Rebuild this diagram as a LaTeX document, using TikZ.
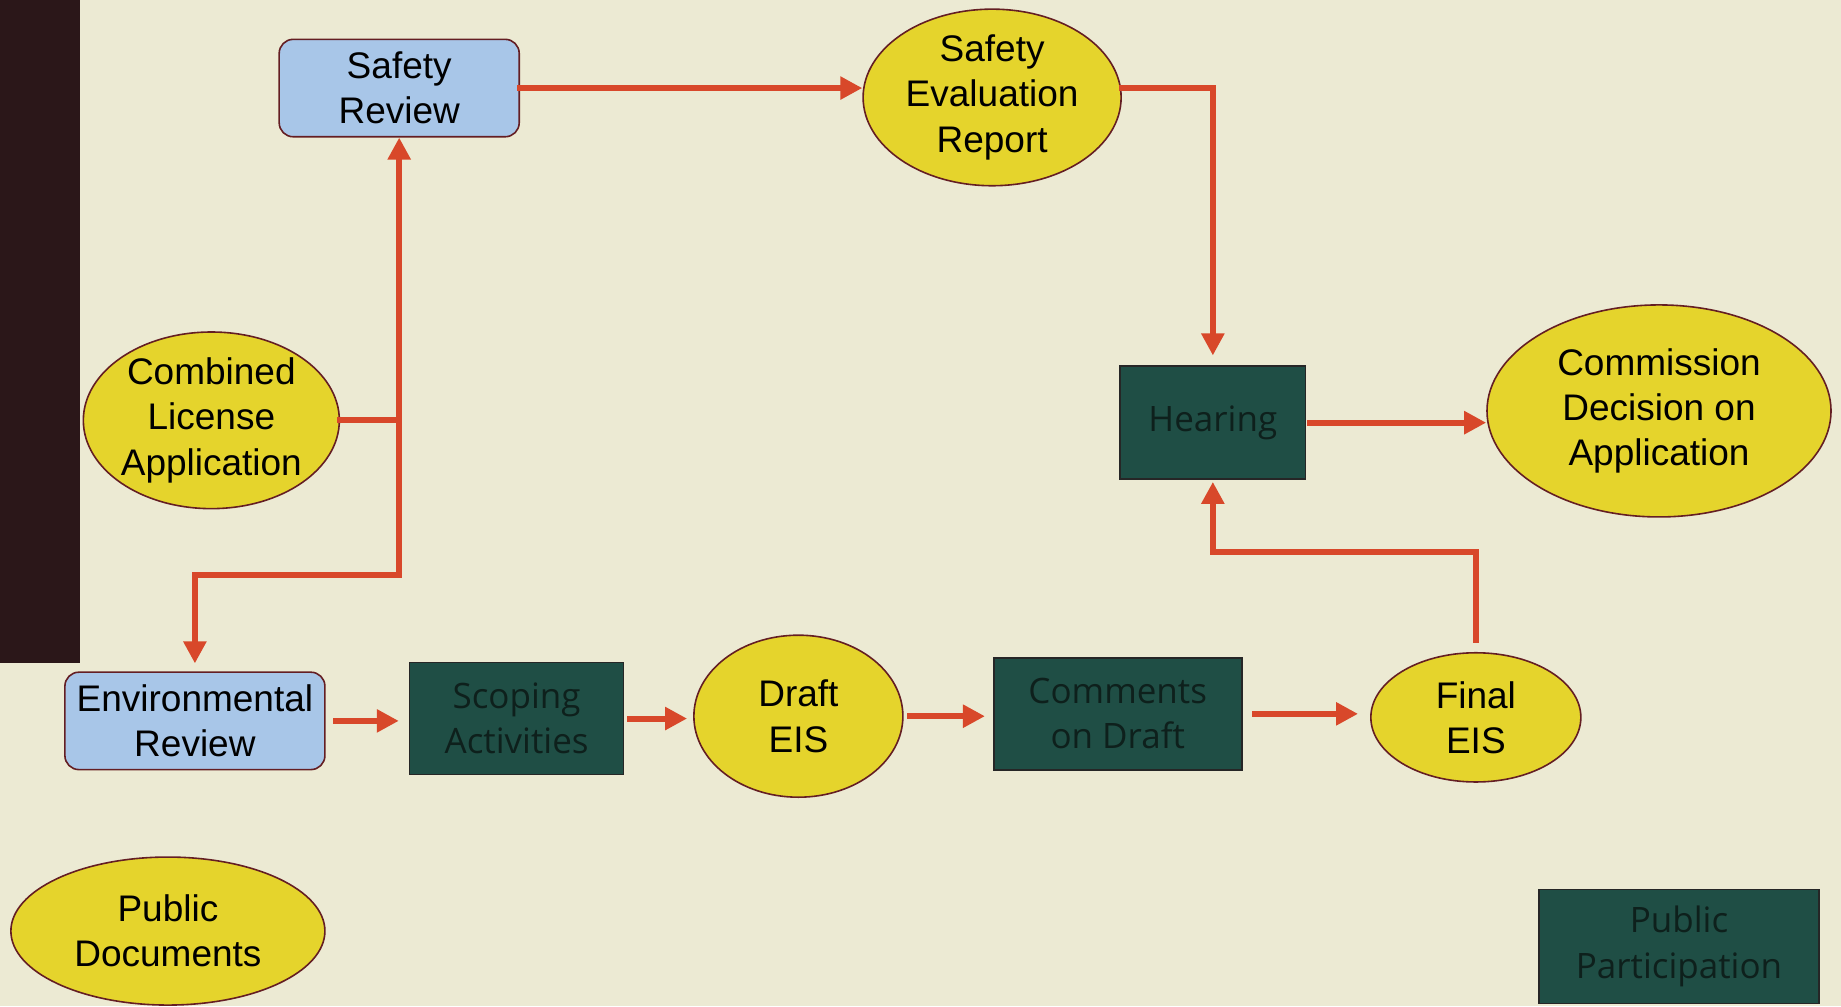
\documentclass[tikz,border=0pt]{standalone}
\usepackage{fontspec}
\setmainfont{Liberation Sans}
\newfontfamily\boxfont{Open Sans}
\usetikzlibrary{shapes.geometric,arrows.meta}

\definecolor{paper}{RGB}{236,234,211}
\definecolor{docyellow}{RGB}{229,212,44}
\definecolor{reviewblue}{RGB}{168,198,232}
\definecolor{meetgreen}{RGB}{31,78,69}
\definecolor{flowred}{RGB}{216,72,42}
\definecolor{rim}{RGB}{100,30,35}
\definecolor{band}{RGB}{43,23,25}
\definecolor{dimtext}{RGB}{14,32,28}

\begin{document}
\begin{tikzpicture}[x=0.587pt, y=-0.587pt,
    docnode/.style={ellipse, draw=rim, line width=0.8pt, fill=docyellow, inner sep=0pt,
        align=center, font=\fontsize{18.5}{22.6}\selectfont},
    reviewnode/.style={rectangle, rounded corners=7pt, draw=rim, line width=0.8pt, fill=reviewblue,
        inner sep=0pt, align=center, font=\fontsize{18.5}{22.6}\selectfont},
    meetnode/.style={rectangle, draw=black!85, line width=0.8pt, fill=meetgreen, inner sep=0pt,
        align=center, text=dimtext, font=\boxfont\fontsize{17.5}{22.6}\selectfont},
    flow/.style={draw=flowred, line width=3pt, line cap=rect, -{Triangle[length=11pt,width=11pt]}},
    flowline/.style={draw=flowred, line width=3pt, line cap=rect}]

    % Page
    \useasboundingbox (0,0) rectangle (1568,857);
    \fill[paper] (0,0) rectangle (1568,857);
    \fill[band] (0,0) rectangle (68,565);

    % Review steps
    \node[reviewnode, minimum width=120pt, minimum height=48.7pt] (sr) at (340,75) {Safety\\Review};
    \node[reviewnode, minimum width=130pt, minimum height=48.7pt] (er) at (166,614) {Environmental\\Review};

    % Documents
    \node[docnode, minimum width=127pt, minimum height=86pt] (cla) at (180,358) {Combined\\License\\Application};
    \node[docnode, minimum width=129pt, minimum height=88pt] (ser) at (845,83) {Safety\\Evaluation\\Report};
    \node[docnode, minimum width=172pt, minimum height=106pt] (cdec) at (1413,350) {Commission\\Decision on\\Application};
    \node[docnode, minimum width=104.5pt, minimum height=81pt] (deis) at (680,610) {Draft\\EIS};
    \node[docnode, minimum width=105pt, minimum height=64.6pt] (feis) at (1257,611) {Final\\EIS};
    \node[docnode, minimum width=157pt, minimum height=74pt] (pdoc) at (143,793) {Public\\Documents};

    % Public participation
    \node[meetnode, minimum width=92.7pt, minimum height=56.4pt] (hear) at (1033,360) {Hearing};
    \node[meetnode, minimum width=107pt, minimum height=56pt] (scope) at (440,612) {Scoping\\Activities};
    \node[meetnode, minimum width=124pt, minimum height=56pt] (comm) at (952,608) {Comments\\on Draft};
    \node[meetnode, minimum width=140pt, minimum height=57pt] (ppart) at (1430,806) {Public\\Participation};

    % Application splits into both reviews
    \coordinate (fork) at (340,490);
    \draw[flowline] (cla.east) -- (cla.east -| fork);
    \draw[flow] (fork) -- (sr.south);
    \draw[flow, shorten >=4pt] (fork) -| (er.north);

    % Safety branch
    \draw[flow] (sr.east) -- (sr.east -| ser.west);
    \draw[flow, shorten >=5pt] (ser.east |- sr.east) -| (hear.north);

    % Environmental branch
    \draw[flow, shorten <=5pt, shorten >=5pt] (er.east) -- (er.east -| scope.west);
    \draw[flow, shorten <=3pt, shorten >=3pt] (scope.east) -- (scope.east -| deis.west);
    \draw[flow, shorten <=3pt, shorten >=4pt] (deis.east) -- (deis.east -| comm.west);
    \draw[flow, shorten <=6pt, shorten >=6pt] (comm.east) -- (comm.east -| feis.west);
    \coordinate (bend) at (1033,470);
    \draw[flow, shorten <=6pt, shorten >=1pt] (feis.north) |- (bend) -- (hear.south);

    % Decision
    \draw[flow, shorten <=2pt] (hear.east) -- (hear.east -| cdec.west);

\end{tikzpicture}
\end{document}
